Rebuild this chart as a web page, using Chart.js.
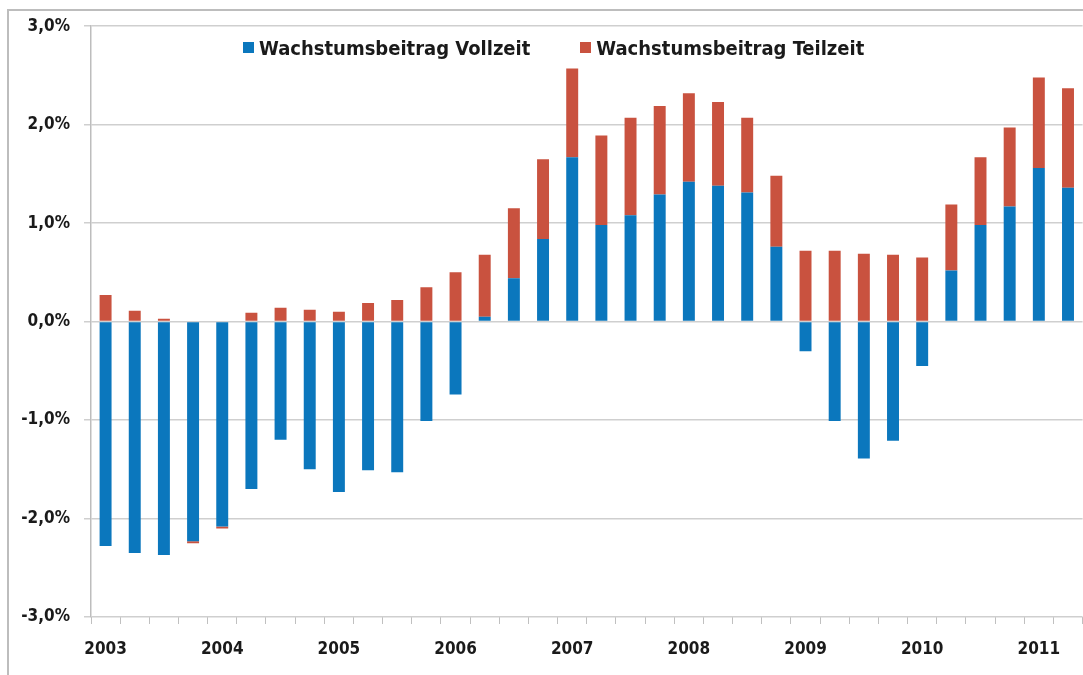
<!DOCTYPE html>
<html>
<head>
<meta charset="utf-8">
<script src="https://cdn.jsdelivr.net/npm/chart.js@4"></script>
<style>
  body { margin: 0; background: #fff; }
  #frame {
    position: absolute; left: 7px; top: 9px; width: 1076px; height: 666px;
    border-top: 2px solid #bdbdbd; border-left: 2px solid #bdbdbd;
  }
  #wrap { position: absolute; left: 0; top: -9px; width: 1074px; height: 673px; }
  #legend {
    position: absolute; top: 25px; left: 234px;
    font-family: "DejaVu Sans Condensed", "DejaVu Sans", sans-serif; font-weight: bold; font-size: 20px; color: #1a1a1a;
    display: flex; gap: 50px; white-space: nowrap;
  }
  #legend span.box { display: inline-block; width: 11px; height: 11px; margin-right: 5px; vertical-align: 2px; }
</style>
</head>
<body>
<div id="frame">
  <div id="wrap"><canvas id="growthChart"></canvas></div>
  <div id="legend"></div>
</div>
<script>
// quarters 2003 Q1 .. 2011 Q2, year label only on Q1
const years = ['2003', '2004', '2005', '2006', '2007', '2008', '2009', '2010', '2011'];
const quarters = [];
years.forEach(y => { quarters.push(y, '', '', ''); });
quarters.length = 34;

const seriesNames = ['Wachstumsbeitrag Vollzeit', 'Wachstumsbeitrag Teilzeit'];
const seriesColors = ['#0b77bd', '#c9523f'];

// contribution in percentage points
const vollzeit = [-2.28, -2.35, -2.37, -2.23, -2.08, -1.70, -1.20, -1.50, -1.73, -1.51, -1.53, -1.01,
    -0.74, 0.05, 0.44, 0.84, 1.67, 0.98, 1.08, 1.29, 1.42, 1.38, 1.31, 0.76,
    -0.30, -1.01, -1.39, -1.21, -0.45, 0.52, 0.98, 1.17, 1.56, 1.36];
const teilzeit = [0.27, 0.11, 0.03, -0.02, -0.02, 0.09, 0.14, 0.12, 0.10, 0.19, 0.22, 0.35,
    0.50, 0.63, 0.71, 0.81, 0.90, 0.91, 0.99, 0.90, 0.90, 0.85, 0.76, 0.72,
    0.72, 0.72, 0.69, 0.68, 0.65, 0.67, 0.69, 0.80, 0.92, 1.01];

const yTicks = [-3, -2, -1, 0, 1, 2, 3];

const font = { family: '"DejaVu Sans Condensed", "DejaVu Sans", sans-serif', weight: 'bold', size: 17 };

// legend sits inside the plot, so build it as html
document.getElementById('legend').innerHTML = seriesNames.map((n, i) =>
    '<div><span class="box" style="background:' + seriesColors[i] + '"></span>' + n + '</div>').join('');

const ctx = document.getElementById('growthChart').getContext('2d');
const growthChart = new Chart(ctx, {
    type: 'bar',
    data: {
        labels: quarters,
        datasets: [
            { label: seriesNames[0], data: vollzeit, backgroundColor: seriesColors[0], barPercentage: 0.41, categoryPercentage: 1 },
            { label: seriesNames[1], data: teilzeit, backgroundColor: seriesColors[1], barPercentage: 0.41, categoryPercentage: 1 }
        ]
    },
    options: {
        responsive: true,
        maintainAspectRatio: false,
        animation: false,
        layout: { padding: { top: 4, right: 0, left: 0, bottom: 0 } },
        plugins: {
            legend: { display: false },
            tooltip: { enabled: false }
        },
        scales: {
            x: {
                stacked: true,
                grid: { drawOnChartArea: false, drawTicks: true, tickLength: 7, color: '#c0c0c0' },
                border: { display: false },
                ticks: {
                    autoSkip: false, maxRotation: 0, padding: 15,
                    color: '#1a1a1a', font: font
                },
                afterFit: s => { s.height = 58; }
            },
            y: {
                stacked: true,
                min: -3, max: 3,
                afterBuildTicks: s => { s.ticks = yTicks.map(v => ({ value: v })); },
                grid: { color: '#cfcfcf', lineWidth: 1.5, tickLength: 7 },
                border: { display: true, color: '#bdbdbd', width: 1.5 },
                ticks: {
                    padding: 14, color: '#1a1a1a', font: font,
                    callback: v => v.toFixed(1).replace('.', ',') + '%'
                },
                afterFit: s => { s.width = 82; }
            }
        }
    }
});
</script>
</body>
</html>
